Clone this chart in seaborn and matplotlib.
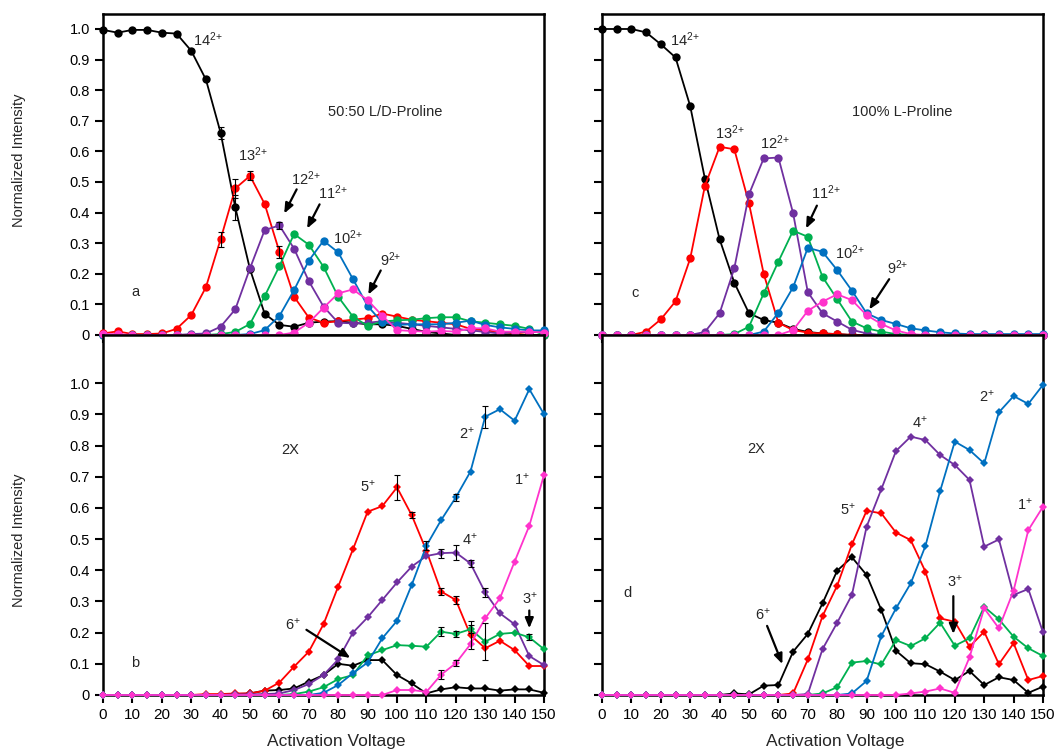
import matplotlib
matplotlib.use("Agg")
import matplotlib.pyplot as plt
import seaborn as sns

sns.set_style("ticks")
plt.rcParams["font.family"] = ["Liberation Sans", "DejaVu Sans"]

volts = list(range(0, 155, 5))

# ---- panel a : 50:50 L/D-Proline (2+ ions)
a_14 = [0.997, 0.988, 0.997, 0.997, 0.988, 0.985, 0.929, 0.835, 0.661, 0.417, 0.215, 0.069, 0.033, 0.027, 0.04, 0.044,
        0.045, 0.04, 0.035, 0.035, 0.03, 0.02, 0.01, 0.005, 0.0, -0.005, -0.005, 0.0, 0.0, 0.0, 0.0]
a_13 = [0.005, 0.012, 0.003, 0.003, 0.005, 0.02, 0.065, 0.156, 0.313, 0.479, 0.52, 0.428, 0.272, 0.125, 0.057, 0.04,
        0.045, 0.05, 0.055, 0.07, 0.06, 0.05, 0.045, 0.04, 0.035, 0.02, 0.015, 0.01, 0.005, 0.01, 0.01]
a_12 = [0, 0, 0, 0, 0, 0, 0.003, 0.005, 0.027, 0.084, 0.218, 0.343, 0.358, 0.282, 0.176, 0.093,
        0.04, 0.038, 0.04, 0.045, 0.04, 0.035, 0.03, 0.025, 0.02, 0.015, 0.01, 0.005, 0.01, 0.01, 0.01]
a_11 = [0, 0, 0, 0, 0, 0, 0, 0, 0.003, 0.01, 0.036, 0.127, 0.225, 0.33, 0.295, 0.223,
        0.125, 0.06, 0.03, 0.044, 0.048, 0.05, 0.055, 0.058, 0.058, 0.045, 0.04, 0.035, 0.03, 0.02, 0.0]
a_10 = [0, 0, 0, 0, 0, 0, 0, 0, 0, 0, 0.003, 0.016, 0.062, 0.147, 0.243, 0.308,
        0.27, 0.183, 0.095, 0.041, 0.033, 0.035, 0.035, 0.035, 0.04, 0.047, 0.033, 0.025, 0.02, 0.015, 0.015]
a_9 = [0.003, 0.003, 0, 0, 0, 0, 0, 0, 0, 0, 0, 0, 0, 0.008, 0.04, 0.089,
       0.136, 0.149, 0.114, 0.063, 0.016, 0.013, 0.011, 0.013, 0.011, 0.022, 0.022, 0.011, 0.011, 0.011, 0.008]

# ---- panel c : 100% L-Proline (2+ ions)
c_14 = [1.0, 1.0, 1.0, 0.989, 0.95, 0.907, 0.748, 0.511, 0.313, 0.171, 0.071, 0.049, 0.04, 0.02, 0.01, 0.005,
        0.003, 0, 0, 0, 0, 0, 0, 0, 0, 0, 0, 0, 0, 0, 0]
c_13 = [0, 0, 0, 0.011, 0.051, 0.11, 0.25, 0.487, 0.615, 0.607, 0.43, 0.2, 0.04, 0.016, 0.008, 0.005,
        0.003, 0, 0, 0, 0, 0, 0, 0, 0, 0, 0, 0, 0, 0, 0]
c_12 = [0, 0, 0, 0, 0, 0, 0, 0.01, 0.071, 0.218, 0.46, 0.577, 0.58, 0.398, 0.14, 0.071,
        0.044, 0.017, 0.005, 0, 0, 0, 0, 0, 0, 0, 0, 0, 0, 0, 0]
c_11 = [0, 0, 0, 0, 0, 0, 0, 0, 0, 0.003, 0.027, 0.136, 0.24, 0.341, 0.321, 0.19,
        0.117, 0.044, 0.022, 0.011, 0.003, 0, 0, 0, 0, 0, 0, 0, 0, 0, 0]
c_10 = [0, 0, 0, 0, 0, 0, 0, 0, 0, 0, 0, 0.011, 0.073, 0.156, 0.285, 0.272,
        0.212, 0.145, 0.071, 0.049, 0.036, 0.022, 0.015, 0.009, 0.005, 0.003, 0.003, 0.003, 0.003, 0.003, 0.003]
c_9 = [0, 0, 0, 0, 0, 0, 0, 0, 0, 0, 0, 0, 0, 0.016, 0.079, 0.109,
       0.133, 0.114, 0.065, 0.036, 0.015, 0.003, 0, 0, 0, 0, 0, 0, 0, 0, 0]

# ---- panel b : 50:50, 2X complexes
b_6 = [0, 0, 0, 0, 0, 0, 0, 0, 0, 0.003, 0.005, 0.014, 0.016, 0.021, 0.043, 0.064,
       0.1, 0.094, 0.112, 0.112, 0.064, 0.037, 0.005, 0.018, 0.025, 0.021, 0.021, 0.014, 0.018, 0.018, 0.007]
b_5 = [0, 0, 0, 0, 0, 0, 0, 0.003, 0.003, 0.005, 0.005, 0.014, 0.04, 0.091, 0.139, 0.227,
       0.348, 0.467, 0.588, 0.606, 0.666, 0.577, 0.463, 0.332, 0.305, 0.192, 0.15, 0.174, 0.144, 0.093, 0.093]
b_4 = [0, 0, 0, 0, 0, 0, 0, 0, 0, 0.002, 0.002, 0.003, 0.005, 0.016, 0.035, 0.064,
       0.114, 0.2, 0.249, 0.305, 0.361, 0.412, 0.446, 0.455, 0.457, 0.422, 0.329, 0.262, 0.227, 0.125, 0.096]
b_3 = [0, 0, 0, 0, 0, 0, 0, 0, 0, 0, 0, 0, 0, 0.003, 0.011, 0.025,
       0.051, 0.064, 0.127, 0.144, 0.16, 0.158, 0.155, 0.203, 0.196, 0.211, 0.171, 0.196, 0.2, 0.185, 0.147]
b_2 = [0, 0, 0, 0, 0, 0, 0, 0, 0, 0, 0, 0, 0, 0, 0, 0.007,
       0.032, 0.07, 0.104, 0.182, 0.238, 0.353, 0.479, 0.561, 0.634, 0.717, 0.893, 0.917, 0.88, 0.981, 0.901]
b_1 = [0, 0, 0, 0, 0, 0, 0, 0, 0, 0, 0, 0, 0, 0, 0, 0,
       0, 0, 0, 0, 0.016, 0.016, 0.01, 0.065, 0.102, 0.163, 0.246, 0.31, 0.428, 0.543, 0.706]

# ---- panel d : 100% L, 2X complexes
d_6 = [0, 0, 0, 0, 0, 0, 0, 0, 0, 0.005, 0.002, 0.03, 0.032, 0.139, 0.196, 0.294,
       0.399, 0.442, 0.385, 0.273, 0.142, 0.102, 0.099, 0.075, 0.048, 0.077, 0.032, 0.057, 0.048, 0.007, 0.027]
d_5 = [0, 0, 0, 0, 0, 0, 0, 0, 0, 0, 0, 0, 0, 0.005, 0.114, 0.253,
       0.351, 0.483, 0.591, 0.583, 0.521, 0.497, 0.396, 0.246, 0.235, 0.155, 0.203, 0.099, 0.166, 0.048, 0.061]
d_4 = [0, 0, 0, 0, 0, 0, 0, 0, 0, 0, 0, 0, 0, 0, 0.003, 0.147,
       0.232, 0.321, 0.54, 0.66, 0.783, 0.829, 0.818, 0.77, 0.738, 0.69, 0.476, 0.499, 0.321, 0.34, 0.201]
d_3 = [0, 0, 0, 0, 0, 0, 0, 0, 0, 0, 0, 0, 0, 0, 0, 0.005,
       0.025, 0.104, 0.109, 0.098, 0.176, 0.157, 0.182, 0.232, 0.158, 0.182, 0.283, 0.243, 0.187, 0.15, 0.125]
d_2 = [0, 0, 0, 0, 0, 0, 0, 0, 0, 0, 0, 0, 0, 0, 0, 0,
       0, 0.005, 0.045, 0.189, 0.278, 0.358, 0.478, 0.654, 0.813, 0.786, 0.743, 0.907, 0.959, 0.934, 0.995]
d_1 = [0, 0, 0, 0, 0, 0, 0, 0, 0, 0, 0, 0, 0, 0, 0, 0,
       0, 0, 0, 0, 0, 0.005, 0.011, 0.021, 0.007, 0.121, 0.278, 0.214, 0.335, 0.529, 0.604]

colors = ["black", "#ff0000", "#7030a0", "#00b050", "#0070c0", "#ff33cc"]

# error bars: (series, voltage, +/-)
a_err = [(a_14, 40, 0.02), (a_14, 45, 0.04), (a_13, 40, 0.025), (a_13, 45, 0.03),
         (a_13, 50, 0.015), (a_13, 60, 0.02), (a_12, 60, 0.012)]
b_err = [(b_5, 100, 0.04), (b_5, 105, 0.01), (b_5, 115, 0.01), (b_5, 120, 0.012), (b_5, 125, 0.045),
         (b_2, 110, 0.015), (b_2, 120, 0.01), (b_2, 130, 0.035),
         (b_4, 115, 0.015), (b_4, 120, 0.025), (b_4, 125, 0.01), (b_4, 130, 0.015),
         (b_3, 115, 0.015), (b_3, 120, 0.01), (b_3, 125, 0.012), (b_3, 130, 0.06), (b_3, 145, 0.01),
         (b_1, 115, 0.015), (b_1, 120, 0.01)]

W, H = 1056, 752
fig = plt.figure(figsize=(W / 100, H / 100), dpi=100)


def make_ax(x0, x1, ytop, ybot):
    return fig.add_axes([x0 / W, 1 - ybot / H, (x1 - x0) / W, (ybot - ytop) / H])


ax_a = make_ax(103, 544, 14, 335)
ax_c = make_ax(602, 1043, 14, 335)
ax_b = make_ax(103, 544, 335, 695)
ax_d = make_ax(602, 1043, 335, 695)


def draw(ax, series, marker, ms, errs=()):
    for vals, col in zip(series, colors):
        sns.lineplot(x=volts, y=vals, ax=ax, color=col, marker=marker, markersize=ms,
                     markeredgewidth=0, linewidth=1.3, clip_on=False, zorder=3)
    for vals, v, e in errs:
        ax.errorbar(v, vals[volts.index(v)], yerr=e, fmt="none", ecolor="black",
                    elinewidth=0.8, capsize=2, capthick=0.8, zorder=4)


draw(ax_a, [a_14, a_13, a_12, a_11, a_10, a_9], "o", 6, a_err)
draw(ax_c, [c_14, c_13, c_12, c_11, c_10, c_9], "o", 6)
draw(ax_b, [b_6, b_5, b_4, b_3, b_2, b_1], "D", 4.5, b_err)
draw(ax_d, [d_6, d_5, d_4, d_3, d_2, d_1], "D", 4.5)

yt = [i / 10 for i in range(11)]
ylabs = ["0"] + [f"{t:.1f}" for t in yt[1:]]
for ax, top in [(ax_a, True), (ax_c, True), (ax_b, False), (ax_d, False)]:
    ax.set_xlim(0, 150)
    ax.set_ylim(0, 1.049 if top else 1.155)
    ax.set_xticks(range(0, 151, 10))
    ax.set_yticks(yt)
    ax.set_yticklabels(ylabs)
    for s in ax.spines.values():
        s.set_linewidth(1.8)
        s.set_color("black")
        s.set_visible(True)
    ax.tick_params(axis="both", direction="out", length=6, width=1.5, colors="black")
    ax.tick_params(axis="y", labelsize=10.5)
    ax.tick_params(axis="x", labelsize=11, labelbottom=not top)
    if ax in (ax_c, ax_d):
        ax.tick_params(axis="y", labelleft=False)
    ax.set_xlabel("")
    ax.set_ylabel("")

for ax, yc in [(ax_a, 0.545), (ax_b, 0.43)]:
    ax.set_ylabel("Normalized Intensity", fontsize=10.5)
    ax.yaxis.set_label_coords(-0.175, yc)
for ax in (ax_b, ax_d):
    ax.set_xlabel("Activation Voltage", fontsize=12.5)
    ax.xaxis.set_label_coords(0.53, -0.108)

fs = 10.5


def lab(ax, x, y, s):
    ax.text(x, y, s, fontsize=fs, ha="center", va="center", zorder=6)


def arrow(ax, x0, y0, x1, y1):
    ax.annotate("", xy=(x1, y1), xytext=(x0, y0),
                arrowprops=dict(arrowstyle="-|>,head_width=0.25,head_length=0.6",
                                color="black", lw=1.6), zorder=6)


def ion(n, z):
    return r"$\mathregular{" + n + "^{" + z + "}}$"


# panel a annotations
lab(ax_a, 35.7, 0.965, ion("14", "2{+}"))
lab(ax_a, 51, 0.588, ion("13", "2{+}"))
lab(ax_a, 69, 0.51, ion("12", "2{+}"))
lab(ax_a, 78, 0.464, ion("11", "2{+}"))
lab(ax_a, 83.4, 0.317, ion("10", "2{+}"))
lab(ax_a, 98, 0.245, ion("9", "2{+}"))
arrow(ax_a, 66.3, 0.484, 61.2, 0.389)
arrow(ax_a, 74.1, 0.435, 69, 0.34)
arrow(ax_a, 94.9, 0.219, 89.8, 0.124)
lab(ax_a, 96, 0.73, "50:50 L/D-Proline")
lab(ax_a, 10.9, 0.14, "a")

# panel c annotations
lab(ax_c, 28.2, 0.965, ion("14", "2{+}"))
lab(ax_c, 43.4, 0.66, ion("13", "2{+}"))
lab(ax_c, 58.8, 0.63, ion("12", "2{+}"))
lab(ax_c, 76, 0.464, ion("11", "2{+}"))
lab(ax_c, 84.4, 0.268, ion("10", "2{+}"))
lab(ax_c, 100.7, 0.219, ion("9", "2{+}"))
arrow(ax_c, 73.5, 0.431, 69, 0.34)
arrow(ax_c, 98.2, 0.19, 90.4, 0.076)
lab(ax_c, 102, 0.73, "100% L-Proline")
lab(ax_c, 11.2, 0.138, "c")

# panel b annotations
lab(ax_b, 63.6, 0.786, "2X")
lab(ax_b, 90.2, 0.668, ion("5", "{+}"))
lab(ax_b, 123.7, 0.84, ion("2", "{+}"))
lab(ax_b, 142.4, 0.692, ion("1", "{+}"))
lab(ax_b, 124.8, 0.5, ion("4", "{+}"))
lab(ax_b, 145.2, 0.31, ion("3", "{+}"))
lab(ax_b, 64.7, 0.225, ion("6", "{+}"))
arrow(ax_b, 145, 0.28, 145, 0.205)
arrow(ax_b, 68.4, 0.214, 84.9, 0.114)
lab(ax_b, 10.9, 0.103, "b")

# panel d annotations
lab(ax_d, 52.4, 0.788, "2X")
lab(ax_d, 108.2, 0.874, ion("4", "{+}"))
lab(ax_d, 130.8, 0.957, ion("2", "{+}"))
lab(ax_d, 83.8, 0.596, ion("5", "{+}"))
lab(ax_d, 143.9, 0.61, ion("1", "{+}"))
lab(ax_d, 120, 0.364, ion("3", "{+}"))
lab(ax_d, 54.7, 0.257, ion("6", "{+}"))
arrow(ax_d, 119.5, 0.326, 119.5, 0.187)
arrow(ax_d, 55.8, 0.23, 61.7, 0.091)
lab(ax_d, 8.8, 0.327, "d")

fig.savefig("out.png", dpi=100)
